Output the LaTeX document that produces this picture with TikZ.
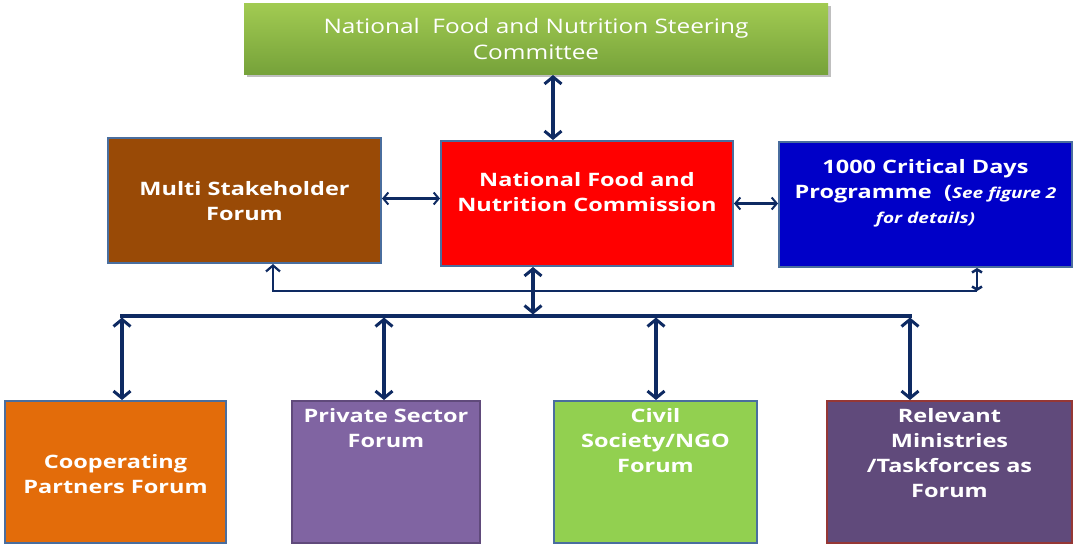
\documentclass[tikz,border=0pt]{standalone}
\usepackage{fontspec}
\setmainfont[FakeStretch=1.27]{Open Sans}
\newfontfamily\steerfont[FakeStretch=1.22]{Open Sans}
\usetikzlibrary{arrows.meta,calc}
\definecolor{navy}{HTML}{0E2A62}
\definecolor{bord}{HTML}{4A6E9E}
\definecolor{gtop}{HTML}{A2CB52}
\definecolor{gbot}{HTML}{76A23A}
\definecolor{brown}{HTML}{994A06}
\definecolor{cblue}{HTML}{0000C8}
\definecolor{orng}{HTML}{E36C0A}
\definecolor{purp}{HTML}{8064A2}
\definecolor{lgreen}{HTML}{92D050}
\definecolor{dpurp}{HTML}{604A7B}
\definecolor{dred}{HTML}{953735}
\tikzset{
  box/.style={rectangle, draw=bord, line width=2pt, inner sep=0pt},
  txt/.style={text=white, font=\bfseries\fontsize{18.5}{25}\selectfont, align=center, inner sep=0pt},
  vbi/.style={draw=navy, line width=3.5pt, {Straight Barb[length=7pt,width=17pt,line width=3pt]}-{Straight Barb[length=7pt,width=17pt,line width=3pt]}},
  hbi/.style={draw=navy, line width=2.2pt, {Straight Barb[length=5pt,width=12pt,line width=2pt]}-{Straight Barb[length=5pt,width=12pt,line width=2pt]}},
  bus/.style={draw=navy, line width=3.5pt},
  ret/.style={draw=navy, line width=2.5pt},
}
\begin{document}
\begin{tikzpicture}[x=1pt,y=-1pt]
\useasboundingbox (0,0) rectangle (1074,546);
% shadow of steering box
\fill[black!25] (247,6) rectangle (831,77);
\node[box, draw=none, minimum width=584pt, minimum height=71pt, top color=gtop, bottom color=gbot] (steer) at (536,38.5) {};
\node[text=white, font=\steerfont\fontsize{20}{26}\selectfont, align=center, inner sep=0pt] (steert) at (536,39) {National\ \ Food and Nutrition Steering\\Committee};

\node[box, fill=brown, minimum width=273pt, minimum height=125pt] (msf) at (244.5,200.5) {};
\node[txt] (msft) at (244.5,201) {Multi Stakeholder\\Forum};

\node[box, fill=red, minimum width=292pt, minimum height=125pt] (nfnc) at (587,203.5) {};
\node[txt] (nfnct) at (587,192) {National Food and\\Nutrition Commission};

\node[box, fill=cblue, minimum width=293pt, minimum height=125pt] (cdp) at (925.5,204.5) {};
\node[txt, anchor=north] (cdpt) at (925.5,159) {1000 Critical Days\\Programme\ \ (\textit{\fontsize{15}{20}\selectfont See figure 2}\\{\itshape\fontsize{15}{22}\selectfont for details)}};

\node[box, fill=orng, minimum width=221pt, minimum height=142pt] (coop) at (115.5,472) {};
\node[txt] (coopt) at (115.5,474) {Cooperating\\Partners Forum};

\node[box, draw=dpurp, fill=purp, minimum width=188pt, minimum height=142pt] (priv) at (386,472) {};
\node[txt, anchor=north] (privt) at (386,408) {Private Sector\\Forum};

\node[box, fill=lgreen, minimum width=203pt, minimum height=142pt] (civ) at (655.5,472) {};
\node[txt, anchor=north] (civt) at (655.5,408) {Civil\\Society/NGO\\Forum};

\node[box, draw=dred, fill=dpurp, minimum width=245pt, minimum height=142pt] (rel) at (949.5,472) {};
\node[txt, anchor=north] (relt) at (949.5,408) {Relevant\\Ministries\\/Taskforces as\\Forum};

% connectors
\draw[vbi] ([xshift=17]steer.south) -- ([xshift=-34]nfnc.north);
\draw[hbi] ([yshift=2]msf.east) -- ([yshift=2]nfnc.west |- msf.east);
\draw[hbi] (nfnc.east) -- (cdp.west |- nfnc.east);

\coordinate (r1) at (273,291);
\coordinate (r2) at (977,291);
\draw[ret, -{Straight Barb[length=6pt,width=14pt,line width=2.2pt]}] (r2) -- (r1) -- (msf.south -| r1);
\draw[ret, {Straight Barb[length=3pt,width=10pt,line width=2.5pt]}-{Straight Barb[length=3pt,width=10pt,line width=2.5pt]}] (r2) -- (cdp.south -| r2);

\coordinate (bus) at (533,316);
\coordinate (d1) at (122,316);
\coordinate (d2) at (384,316);
\coordinate (d3) at (656,316);
\coordinate (d4) at (910,316);
\draw[bus] ([xshift=-1.75]d1) -- ([xshift=1.75]d4);
\draw[vbi] ([xshift=-54]nfnc.south) -- ([yshift=1.5]bus);
\draw[vbi] ([yshift=-1.5]d1) -- (coop.north -| d1);
\draw[vbi] ([yshift=-1.5]d2) -- (priv.north -| d2);
\draw[vbi] ([yshift=-1.5]d3) -- (civ.north -| d3);
\draw[vbi] ([yshift=-1.5]d4) -- (rel.north -| d4);
\end{tikzpicture}
\end{document}
